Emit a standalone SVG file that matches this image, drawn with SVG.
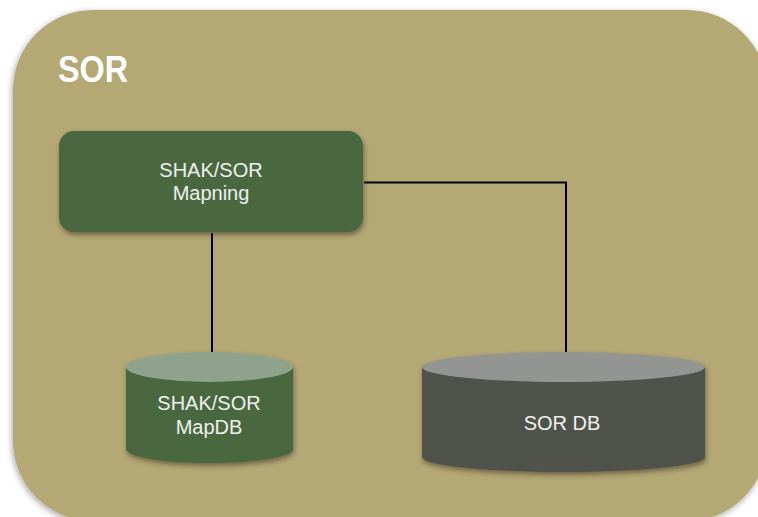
<svg xmlns="http://www.w3.org/2000/svg" width="758" height="517" viewBox="0 0 758 517">
  <defs>
    <filter id="panelShadow" x="-10%" y="-10%" width="120%" height="120%">
      <feDropShadow dx="-1" dy="2" stdDeviation="3" flood-color="#000" flood-opacity="0.35"/>
    </filter>
    <filter id="nodeShadow" x="-10%" y="-10%" width="125%" height="135%">
      <feDropShadow dx="1" dy="3" stdDeviation="2.5" flood-color="#3a3320" flood-opacity="0.55"/>
    </filter>
    <style>
      .label { font-family: "Century Gothic", "URW Gothic", "Liberation Sans", Arial, sans-serif; font-size: 20px; fill: #eef1ec; text-anchor: middle; }
      .title { font-family: "Century Gothic", "Liberation Sans", Arial, sans-serif; font-size: 36px; font-weight: bold; fill: #ffffff; }
      .wire { fill: none; stroke: #000; stroke-width: 2; }
    </style>
  </defs>

  <rect width="758" height="517" fill="#ffffff"/>

  <!-- SOR boundary -->
  <g id="sor-panel">
    <rect x="13" y="10" width="754" height="511" rx="80" ry="80" fill="#B4A874" filter="url(#panelShadow)"/>
    <text class="title" x="58" y="82" textLength="70" lengthAdjust="spacingAndGlyphs">SOR</text>
  </g>

  <!-- connectors -->
  <g id="connectors">
    <line class="wire" x1="212" y1="233" x2="212" y2="353"/>
    <polyline class="wire" points="364,182.5 566,182.5 566,353"/>
  </g>

  <!-- mapping service -->
  <g id="mapning">
    <rect x="59" y="131" width="304" height="101" rx="15" ry="15" fill="#48673F" filter="url(#nodeShadow)"/>
    <text class="label" x="211" y="177">SHAK/SOR</text>
    <text class="label" x="211" y="200">Mapning</text>
  </g>

  <!-- mapping database -->
  <g id="mapdb">
    <g filter="url(#nodeShadow)">
      <path d="M126,367 L126,449 A83.5,14 0 0 0 293,449 L293,367 Z" fill="#48673F"/>
      <ellipse cx="209.5" cy="367" rx="83.5" ry="15" fill="#8FA38C"/>
    </g>
    <text class="label" x="209" y="410">SHAK/SOR</text>
    <text class="label" x="209" y="434">MapDB</text>
  </g>

  <!-- SOR database -->
  <g id="sordb">
    <g filter="url(#nodeShadow)">
      <path d="M422,367 L422,457 A141.5,15 0 0 0 705,457 L705,367 Z" fill="#4F534C"/>
      <ellipse cx="563.5" cy="367" rx="141.5" ry="15" fill="#929591"/>
    </g>
    <text class="label" x="562" y="430">SOR DB</text>
  </g>
</svg>
